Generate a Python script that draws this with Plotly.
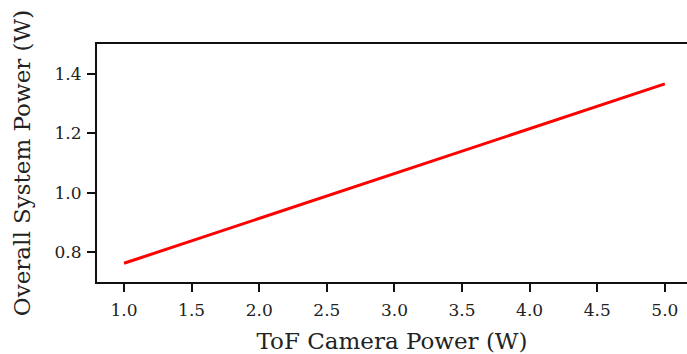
import plotly.graph_objects as go

tof_power = [1.0, 2.0, 3.0, 4.0, 5.0]
system_power = [0.763, 0.914, 1.064, 1.215, 1.366]
x_ticks = [1.0, 1.5, 2.0, 2.5, 3.0, 3.5, 4.0, 4.5, 5.0]
y_ticks = [0.8, 1.0, 1.2, 1.4]

FONT = "DejaVu Serif"

fig = go.Figure()
fig.add_trace(go.Scatter(x=tof_power, y=system_power, mode="lines",
                         line=dict(color="#ff0000", width=3), showlegend=False))

fig.update_layout(
    width=687, height=354,
    margin=dict(l=97, r=0, t=44, b=72),
    paper_bgcolor="white", plot_bgcolor="white",
    font=dict(family=FONT, color="#222"),
)
fig.update_xaxes(
    range=[0.8, 5.164], tickvals=x_ticks, ticktext=[f"{v:.1f}" for v in x_ticks],
    showgrid=False, zeroline=False, showline=True, linecolor="#111", linewidth=2,
    mirror=True, ticks="outside", ticklen=8, tickwidth=2, tickcolor="#111",
    tickfont=dict(size=17, family=FONT), ticklabelstandoff=4,
    title=dict(text="ToF Camera Power (W)", font=dict(size=23, family=FONT), standoff=14),
)
fig.update_yaxes(
    range=[0.7, 1.5], tickvals=y_ticks, ticktext=[f"{v:.1f}" for v in y_ticks],
    showgrid=False, zeroline=False, showline=True, linecolor="#111", linewidth=2,
    mirror=False, ticks="outside", ticklen=8, tickwidth=2, tickcolor="#111",
    tickfont=dict(size=17, family=FONT), ticklabelstandoff=2,
    title=dict(text="Overall System Power (W)", font=dict(size=23, family=FONT), standoff=18),
)

fig.write_html("out.html")
